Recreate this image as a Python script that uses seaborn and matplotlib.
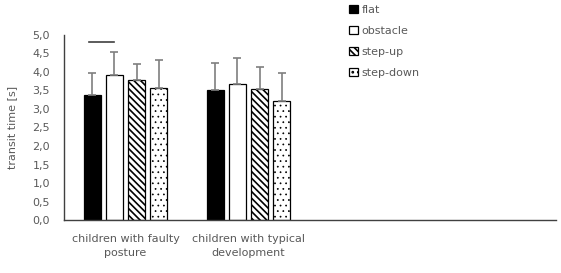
import matplotlib
matplotlib.use("Agg")
import matplotlib.pyplot as plt
import seaborn as sns
import numpy as np
import pandas as pd
from matplotlib.patches import Patch
from matplotlib.ticker import FuncFormatter

groups = ["children with faulty\nposture", "children with typical\ndevelopment"]
surfaces = ["flat", "obstacle", "step-up", "step-down"]
mean_faulty = [3.38, 3.93, 3.77, 3.57]
mean_typical = [3.50, 3.67, 3.54, 3.22]
sd_faulty = [0.58, 0.60, 0.45, 0.74]
sd_typical = [0.74, 0.70, 0.60, 0.76]
sig_y = 4.82

hatches = ["", "", "\\\\\\\\\\", "..."]
hatch_lw = [1.0, 1.0, 1.2, 0.5]
faces = ["black", "white", "white", "white"]
text_col = "#595959"

rows = []
for g, means in zip(groups, [mean_faulty, mean_typical]):
    for s, m in zip(surfaces, means):
        rows.append({"group": g, "surface": s, "time": m})
df = pd.DataFrame(rows)

plt.rcParams["hatch.linewidth"] = 1.2
plt.rcParams["font.family"] = "DejaVu Sans"


def style_patch(p, i):
    p.set_facecolor(faces[i])
    p.set_edgecolor("black")
    p.set_linewidth(0.9)
    p.set_hatch(hatches[i])
    if hasattr(p, "set_hatch_linewidth"):
        p.set_hatch_linewidth(hatch_lw[i])


fig = plt.figure(figsize=(5.61, 2.73), dpi=100)
ax = fig.add_axes([0.114, 0.194, 0.877, 0.678])

sns.barplot(data=df, x="group", y="time", hue="surface", order=groups,
            hue_order=surfaces, width=0.72, gap=0.22, errorbar=None,
            legend=False, ax=ax)

sds = [sd_faulty, sd_typical]
centers = {}
bar_conts = list(ax.containers)
for i, cont in enumerate(bar_conts):
    for j, bar in enumerate(cont):
        style_patch(bar, i)
        xc = bar.get_x() + bar.get_width() / 2
        h = bar.get_height()
        centers[(i, j)] = xc
        ax.errorbar(xc, h, yerr=[[0], [sds[j][i]]], fmt="none",
                    ecolor="#7f7f7f", elinewidth=1.2, capsize=3, capthick=1.2)

# significance bar between flat and obstacle in first group
x0 = centers[(0, 0)] - 0.03
x1 = centers[(1, 0)]
ax.plot([x0, x1], [sig_y, sig_y], color="#404040", lw=1.2)

ax.set_xlim(-0.5, 3.5)
ax.set_ylim(0, 5)
ax.set_yticks(np.arange(0, 5.01, 0.5))
ax.yaxis.set_major_formatter(FuncFormatter(lambda v, p: f"{v:.1f}".replace(".", ",")))
ax.set_xticks([0, 1])
ax.set_xticklabels(groups, linespacing=1.5)
ax.tick_params(length=0, labelsize=8, colors=text_col)
ax.tick_params(axis="y", pad=10)
ax.tick_params(axis="x", pad=10)
ax.set_xlabel("")
ax.set_ylabel("transit time [s]", fontsize=8, color=text_col, labelpad=11)
for side in ["top", "right"]:
    ax.spines[side].set_visible(False)
for side in ["left", "bottom"]:
    ax.spines[side].set_color("#404040")
    ax.spines[side].set_linewidth(1.0)

handles = []
for i in range(4):
    p = Patch(label=surfaces[i])
    style_patch(p, i)
    handles.append(p)
fig.legend(handles=handles, loc="upper left", bbox_to_anchor=(0.605, 1.02),
           frameon=False, fontsize=8, handlelength=0.75, handleheight=0.75,
           handletextpad=0.35, labelspacing=1.0, labelcolor=text_col)

fig.savefig("out.png", dpi=100)
